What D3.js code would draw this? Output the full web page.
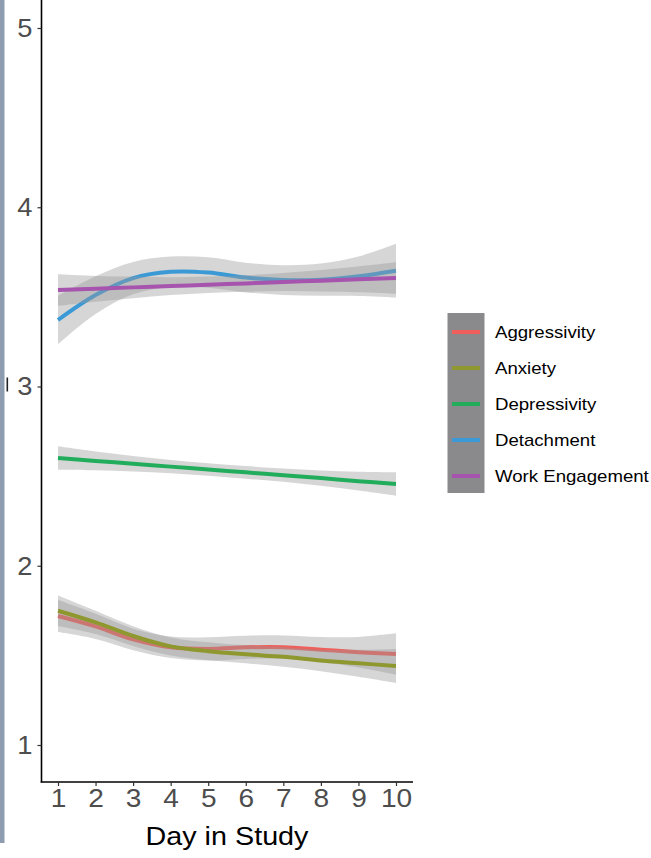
<!DOCTYPE html>
<html>
<head>
<meta charset="utf-8">
<script src="https://cdn.jsdelivr.net/npm/d3@7"></script>
<style>
  html, body { margin: 0; padding: 0; background: #ffffff; }
  svg { display: block; }
  text { font-family: "Liberation Sans", Arial, sans-serif; }
</style>
</head>
<body>
<svg id="chart" width="651" height="858"></svg>
<script>
// ---- data ----
const days = [1, 2, 3, 4, 5, 6, 7, 8, 9, 10];
const seriesNames = ["Aggressivity", "Anxiety", "Depressivity", "Detachment", "Work Engagement"];
const seriesColors = ["#ee5f5b", "#8e982f", "#22ad5c", "#3b9ad6", "#a654ae"];

const aggressivity   = [1.720, 1.662, 1.589, 1.545, 1.536, 1.545, 1.546, 1.532, 1.518, 1.508];
const anxiety        = [1.749, 1.684, 1.608, 1.550, 1.523, 1.506, 1.492, 1.472, 1.456, 1.441];
const depressivity   = [2.601, 2.585, 2.569, 2.553, 2.537, 2.521, 2.505, 2.489, 2.472, 2.456];
const detachment     = [3.371, 3.510, 3.605, 3.640, 3.636, 3.608, 3.594, 3.596, 3.615, 3.646];
const workEngagement = [3.538, 3.545, 3.553, 3.560, 3.568, 3.575, 3.583, 3.590, 3.598, 3.605];

// confidence half-widths
const aggressivityCI   = [0.090, 0.070, 0.060, 0.060, 0.065, 0.065, 0.065, 0.070, 0.085, 0.115];
const anxietyCI        = [0.085, 0.065, 0.055, 0.050, 0.050, 0.050, 0.055, 0.060, 0.075, 0.095];
const depressivityCI   = [0.065, 0.052, 0.043, 0.037, 0.035, 0.035, 0.037, 0.043, 0.052, 0.065];
const detachmentCI     = [0.135, 0.105, 0.090, 0.085, 0.085, 0.083, 0.083, 0.090, 0.110, 0.150];
const workEngagementCI = [0.088, 0.072, 0.060, 0.050, 0.046, 0.046, 0.050, 0.060, 0.072, 0.088];

const yTicks = [1, 2, 3, 4, 5];
const xTicks = [1, 2, 3, 4, 5, 6, 7, 8, 9, 10];
const xTitle = "Day in Study";

const values = [aggressivity, anxiety, depressivity, detachment, workEngagement];
const cis = [aggressivityCI, anxietyCI, depressivityCI, detachmentCI, workEngagementCI];

// ---- layout ----
const svg = d3.select("#chart");
const axisX = 41.5, axisY = 782;

function stretch(sel, sx, ax) {
  sel.each(function () {
    const t = d3.select(this);
    const cx = ax !== undefined ? ax : +t.attr("x") || 0;
    t.attr("transform", `translate(${cx},0) scale(${sx},1) translate(${-cx},0)`);
  });
}

const x = d3.scaleLinear().domain([1, 10]).range([58, 396]);
const y = d3.scaleLinear().domain([1, 5]).range([745, 28]);

// left edge strip
svg.append("rect").attr("x", 0).attr("y", 0).attr("width", 4.5).attr("height", 843).attr("fill", "#8d9cae");

// bands and lines
const plot = svg.append("g");
const curve = d3.curveCatmullRom.alpha(0.5);
seriesNames.forEach((name, i) => {
  const pts = days.map((d, j) => ({ d, v: values[i][j], c: cis[i][j] }));
  const area = d3.area().x(p => x(p.d)).y0(p => y(p.v - p.c)).y1(p => y(p.v + p.c)).curve(curve);
  plot.append("path").attr("d", area(pts)).attr("fill", "#999999").attr("fill-opacity", 0.4);
  const line = d3.line().x(p => x(p.d)).y(p => y(p.v)).curve(curve);
  plot.append("path").attr("d", line(pts)).attr("fill", "none")
      .attr("stroke", seriesColors[i]).attr("stroke-width", 4);
});

// y axis
svg.append("line").attr("x1", axisX).attr("x2", axisX).attr("y1", 0).attr("y2", axisY + 0.5)
   .attr("stroke", "#000").attr("stroke-width", 1.6);
const yAxis = d3.axisLeft(y).tickValues(yTicks).tickSize(4).tickPadding(5).tickFormat(d3.format("d"));
const gy = svg.append("g").attr("transform", `translate(${axisX},0)`).call(yAxis);
gy.select(".domain").remove();
gy.selectAll(".tick line").attr("stroke", "#333").attr("stroke-width", 1.2);
gy.selectAll(".tick text").attr("fill", "#4d4d4d").attr("font-size", 26)
  .attr("font-family", "Liberation Sans, Arial, sans-serif");
stretch(gy.selectAll(".tick text"), 1.05);

// x axis
svg.append("line").attr("x1", axisX - 0.8).attr("x2", 413).attr("y1", axisY).attr("y2", axisY)
   .attr("stroke", "#000").attr("stroke-width", 1.6);
const xAxis = d3.axisBottom(x).tickValues(xTicks).tickSize(4).tickPadding(3).tickFormat(d3.format("d"));
const gx = svg.append("g").attr("transform", `translate(0,${axisY})`).call(xAxis);
gx.select(".domain").remove();
gx.selectAll(".tick line").attr("stroke", "#333").attr("stroke-width", 1.2);
gx.selectAll(".tick text").attr("fill", "#4d4d4d").attr("font-size", 26)
  .attr("font-family", "Liberation Sans, Arial, sans-serif");
stretch(gx.selectAll(".tick text"), 1.08, 0);

const title = svg.append("text").attr("x", 227).attr("y", 845).attr("text-anchor", "middle")
   .attr("font-size", 25).attr("fill", "#000").text(xTitle);
stretch(title, 1.15);

// small stray mark left of "3"
svg.append("rect").attr("x", 6.5).attr("y", y(3) - 9).attr("width", 1.6).attr("height", 14).attr("fill", "#222");

// legend
const legY0 = 332, legStep = 36;
svg.append("rect").attr("x", 447.5).attr("y", 313).attr("width", 37).attr("height", 180).attr("fill", "#8a8a8d");
seriesNames.forEach((name, i) => {
  const ly = legY0 + i * legStep;
  svg.append("line").attr("x1", 452).attr("x2", 480).attr("y1", ly).attr("y2", ly)
     .attr("stroke", seriesColors[i]).attr("stroke-width", 4);
  const t = svg.append("text").attr("x", 495).attr("y", ly).attr("dy", "0.35em")
     .attr("font-size", 16.2).attr("fill", "#000").text(name);
  stretch(t, 1.15);
});
</script>
</body>
</html>
